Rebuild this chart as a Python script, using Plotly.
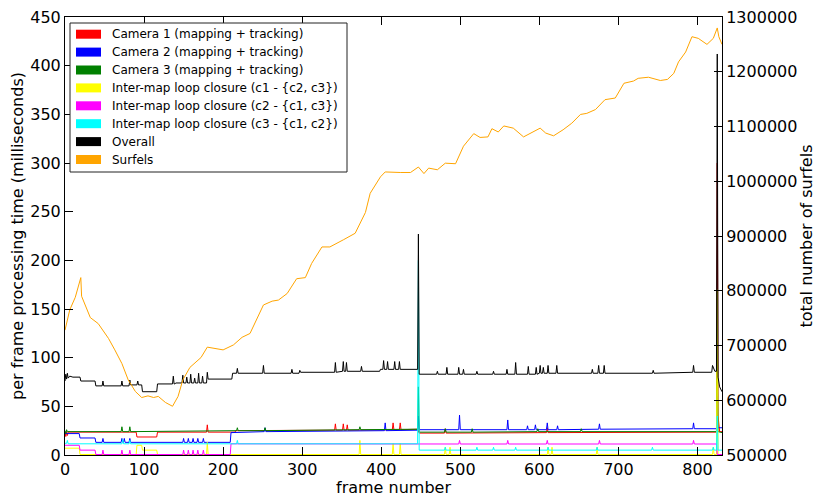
import plotly.graph_objects as go

# ---------------- data ----------------
# per-frame processing time in milliseconds, (frame, value) breakpoints
camera1 = [(0,24),(1,19),(2,24),(3,20),(4,23.5),(90,23.5),(91,18.5),(116,18.5),(117,23.5),(179,23.5),(180,31),(181,23.5),
           (215,23.5),(216,25),(341,25.5),(342,32),(343,25.5),(351,25.5),(352,32),(353,25.5),(356,25.5),(357,31),(358,25.5),
           (414,26),(415,33),(416,26),(423,26),(424,33),(425,26),(446,26.5),(448,22.5),(480,22.5),(481,27),(482,22.5),
           (609,23),(610,28),(611,23),(700,23.5),(824,23.5),(825,300),(826,40),(828,24),(831,24)]
camera2 = [(0,22),(18,22),(19,17.5),(38,17.5),(39,13),(47,13),(48,17),(49,13),(71,13),(72,17),(73,13),(74,13),(75,17),(76,13),
           (81,13),(82,17),(83,13),(149,13),(150,17),(151,13),(155,13),(156,17),(157,13),(161,13),(162,17),(163,13),
           (167,13),(168,17),(169,13),(174,13),(175,17),(176,13),(209,13),(210,23),(252,24),(253,28),(254,24),(404,25),
           (405,33),(406,25),(446,25.5),(447,40),(448,26),(498,26),(499,41),(500,26),(559,26),(560,36),(561,26),(584,26),
           (585,30),(586,26),(594,26),(595,31),(596,26),(609,26),(610,33),(611,26),(622,26),(623,30),(624,26),(675,26.5),
           (676,32),(677,26.5),(794,27),(795,33),(796,27),(824,27),(825,60),(826,28),(831,28)]
camera3 = [(0,25),(1,22),(2,26),(3,24),(71,24),(72,29),(73,24),(81,24),(82,29),(83,24),(217,25),(218,28),(219,25),(252,25),
           (253,28),(254,25),(372,26),(373,29),(374,26),(446,26.5),(447,70),(448,23.5),(480,23.5),(481,27),(482,23.5),
           (514,23.5),(515,27),(516,23.5),(597,24),(598,27),(599,24),(652,24),(653,27),(654,24),(824,24),(825,130),
           (826,24),(831,23)]
loop_c1 = [(0,7),(18,7),(19,0.5),(90,0.5),(91,10),(97,10),(98,5),(116,5),(117,0.5),(179,0.5),(180,13),(181,0.5),(372,0.5),
           (373,15),(374,0.5),(414,0.5),(415,12),(416,0.5),(423,0.5),(424,12),(425,0.5),(480,0.5),(481,8),(482,0.5),
           (486,0.5),(487,8),(488,0.5),(610,0.5),(611,8),(612,0.5),(615,0.5),(616,8),(617,0.5),(672,0.5),(673,8),
           (674,0.5),(819,0.5),(820,8),(821,0.5),(824,0.5),(825,170),(826,0.5),(831,0.5)]
loop_c2 = [(0,10),(18,10),(19,5),(38,5),(39,0.5),(47,0.5),(48,5),(49,0.5),(71,0.5),(72,5),(73,0.5),(81,0.5),(82,5),(83,0.5),
           (149,0.5),(150,5),(151,0.5),(155,0.5),(156,5),(157,0.5),(161,0.5),(162,5),(163,0.5),(167,0.5),(168,5),
           (169,0.5),(174,0.5),(175,5),(176,0.5),(209,0.5),(210,11.5),(446,11.5),(448,11.3),(498,11.3),(499,15),(500,11.3),
           (559,11.3),(560,15),(561,11.3),(609,11.3),(610,15),(611,11.3),(675,11.3),(676,15),(677,11.3),(794,11.3),
           (795,15),(796,11.3),(824,11.3),(825,0.5),(831,0.5)]
loop_c3 = [(0,12),(2,12),(3,15),(4,11.5),(72,11.5),(73,16),(74,11.5),(81,11.5),(82,15),(83,11.5),(217,11.5),(218,15),
           (219,11.5),(446,11.5),(447,200),(448,5),(480,5),(481,8),(482,5),(520,5),(521,8),(522,5),(541,5),(542,8),
           (543,5),(569,5),(570,8),(571,5),(610,5),(611,8),(612,5),(672,5),(673,8),(674,5),(742,5),(743,8),(744,5),
           (819,5),(820,8),(821,5),(824,5),(825,40),(826,5),(831,5)]
overall = [(0,76),(1,83),(2,78),(3,84),(4,79),(6,81),(10,80),(19,80),(20,76),(38,76),(39,71),(47,71),(48,76),(49,71),
           (71,71),(72,76),(73,71),(81,71),(82,77),(83,72),(91,72),(92,76),(93,72),(97,72),(98,65),(116,65),(117,73),
           (136,73),(137,81),(138,73),(139,73),(140,74),(148,74),(149,82),(150,74),(153,74),(154,80),(155,74),(158,74),
           (159,83),(160,74),(163,74),(164,79),(165,74),(168,74),(169,84),(170,74),(173,74),(174,81),(175,74),(179,74),
           (180,85),(181,78),(211,78),(212,84),(217,84),(218,89),(219,84),(250,84),(251,92),(252,84),(286,84),(287,88),
           (288,84),(296,84),(297,87),(298,85),(341,85),(342,95),(343,85),(351,86),(352,96),(353,86),(355,86),(356,95),
           (357,86),(374,86),(375,91),(376,86),(398,86),(399,88),(402,88),(403,97),(404,88),(407,88),(408,96),(409,88),
           (416,88),(417,96),(418,88),(422,88),(423,96),(424,88),(446,88),(447,227),(448,83),(470,83),(471,86),(472,83),
           (482,83),(483,90),(484,83),(497,83),(498,90),(499,83),(503,83),(504,88),(505,83),(520,83),(521,86),(522,83),
           (541,83),(542,86),(543,83),(558,83),(559,88),(560,83),(569,83),(570,95),(571,83),(585,83),(586,91),(587,83),
           (595,83),(596,90),(597,83),(600,84),(601,92),(602,84),(604,84),(605,90),(606,84),(610,84),(611,92),(612,84),
           (621,84),(622,92),(623,84),(666,84),(667,88),(668,84),(674,84),(675,92),(676,84),(681,84),(682,92),(683,84),
           (743,84),(744,87),(745,84),(794,85),(795,92),(796,85),(818,85),(819,92),(820,90),(822,86),(824,86),(825,412),
           (826,80),(828,70),(831,65)]
# total number of surfels (right axis)
surfels = [(0,728000),(6,765000),(13,788000),(20,824000),(21,790000),(27,767000),(32,751000),(42,740000),(48,728000),
           (55,713000),(63,692000),(72,667000),(80,637000),(89,616000),(97,605000),(105,608000),(112,605000),(118,607000),
           (127,596000),(136,589000),(143,607000),(149,637000),(158,660000),(168,674000),(172,678000),(180,697000),
           (192,694000),(200,692000),(213,701000),(224,715000),(234,722000),(247,760000),(251,774000),(262,781000),
           (270,783000),(281,795000),(293,822000),(304,824000),(312,850000),(325,880000),(335,880000),(352,893000),
           (367,905000),(380,943000),(386,978000),(399,1008000),(405,1017000),(424,1016000),(437,1016000),(447,1026000),
           (454,1014000),(460,1024000),(471,1021000),(481,1033000),(494,1032000),(504,1064000),(517,1087000),
           (525,1080000),(535,1081000),(540,1096000),(548,1090000),(555,1101000),(567,1097000),(580,1081000),
           (591,1090000),(601,1097000),(608,1088000),(618,1083000),(630,1094000),(641,1106000),(652,1122000),
           (660,1124000),(671,1131000),(683,1149000),(696,1152000),(707,1179000),(719,1183000),(725,1188000),
           (738,1190000),(753,1184000),(762,1186000),(770,1197000),(776,1218000),(785,1236000),(793,1264000),
           (801,1261000),(812,1250000),(820,1261000),(825,1280000),(827,1264000),(831,1250000)]

series_names = ["Camera 1 (mapping + tracking)", "Camera 2 (mapping + tracking)", "Camera 3 (mapping + tracking)",
                "Inter-map loop closure (c1 - {c2, c3})", "Inter-map loop closure (c2 - {c1, c3})",
                "Inter-map loop closure (c3 - {c1, c2})", "Overall", "Surfels"]
series_data = [camera1, camera2, camera3, loop_c1, loop_c2, loop_c3, overall, surfels]
series_colors = ["#ff0000", "#0000ff", "#008000", "#ffff00", "#ff00ff", "#00ffff", "#000000", "#ffa500"]
x_ticks = [0, 100, 200, 300, 400, 500, 600, 700, 800]
y_ticks = [0, 50, 100, 150, 200, 250, 300, 350, 400, 450]
y2_ticks = [500000, 600000, 700000, 800000, 900000, 1000000, 1100000, 1200000, 1300000]

FONT = "DejaVu Sans"
W, H = 822, 497
ML, MR, MT, MB = 65, 100, 17, 42
PW, PH = W - ML - MR, H - MT - MB

fig = go.Figure()
for name, pts, col in zip(series_names, series_data, series_colors):
    xs, ys = zip(*pts)
    fig.add_trace(go.Scatter(x=xs, y=ys, mode="lines", name=name, line=dict(color=col, width=1),
                             yaxis="y2" if name == "Surfels" else "y", showlegend=False, hoverinfo="skip"))

# matplotlib-style legend drawn in pixel positions (converted to paper coordinates)
def px(xp):
    return (xp - ML) / PW

def py(yp):
    return (H - MB - yp) / PH

shapes = [dict(type="rect", xref="paper", yref="paper", x0=px(70), x1=px(347), y0=py(172), y1=py(23),
               line=dict(color="#222222", width=1), fillcolor="white", layer="above")]
annotations = []
row_y0, row_dy = 34.2, 17.9
for i, (name, col) in enumerate(zip(series_names, series_colors)):
    yc = row_y0 + i * row_dy
    shapes.append(dict(type="rect", xref="paper", yref="paper", x0=px(76), x1=px(101), y0=py(yc + 4.5),
                       y1=py(yc - 4.5), line=dict(width=0), fillcolor=col, layer="above"))
    annotations.append(dict(xref="paper", yref="paper", x=px(110), y=py(yc), xanchor="left", yanchor="middle",
                            text=name, showarrow=False, font=dict(family=FONT, size=12, color="black")))

axis_common = dict(showgrid=False, zeroline=False, ticks="inside", ticklen=8, tickwidth=1, automargin=False,
                   tickcolor="black", showline=True, linecolor="black", linewidth=1,
                   tickfont=dict(family=FONT, size=16, color="black"))
fig.update_layout(
    width=W, height=H,
    margin=dict(l=ML, r=MR, t=MT, b=MB),
    paper_bgcolor="white", plot_bgcolor="white",
    font=dict(family=FONT, color="black"),
    xaxis=dict(range=[0, 831], tickvals=x_ticks, mirror="ticks",
               title=dict(text="frame number", font=dict(family=FONT, size=16), standoff=2), **axis_common),
    yaxis=dict(range=[0, 450], tickvals=y_ticks,
               title=dict(text="per frame processing time (milliseconds)", font=dict(family=FONT, size=16), standoff=2),
               **axis_common),
    yaxis2=dict(range=[500000, 1300000], tickvals=y2_ticks, tickformat="d", overlaying="y", side="right",
                title=dict(text="total number of surfels", font=dict(family=FONT, size=16), standoff=2),
                **axis_common),
    shapes=shapes, annotations=annotations,
    showlegend=False,
)
fig.write_html("out.html", config={"displayModeBar": False},
               post_script="document.body.style.margin='0';")
